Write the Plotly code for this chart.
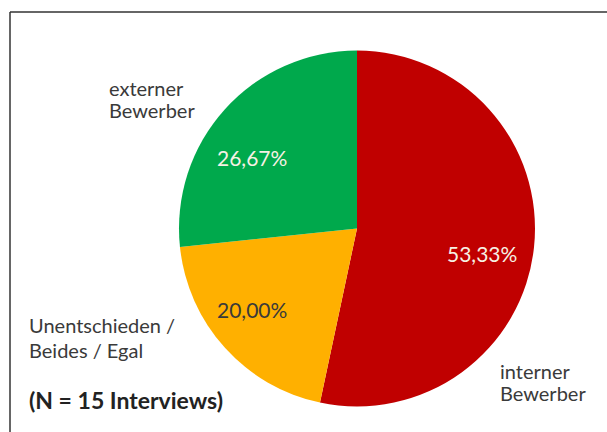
import plotly.graph_objects as go

# Interview answers: which applicant is preferred (N = 15)
categories = ["interner Bewerber", "Unentschieden / Beides / Egal", "externer Bewerber"]
counts = [8, 3, 4]
colors = ["#C00000", "#FFB000", "#00A94C"]

total = sum(counts)
pct_text = [f"{c / total * 100:.2f}".replace(".", ",") + "%" for c in counts]

W, H = 607, 432
cx, cy, r = 357, 228.5, 178  # pie centre and radius in pixels (y from top)

fig = go.Figure(go.Pie(
    labels=categories,
    values=counts,
    sort=False,
    direction="clockwise",
    rotation=0,
    marker=dict(colors=colors, line=dict(width=0)),
    textinfo="none",
    hoverinfo="label+percent",
    showlegend=False,
    domain=dict(x=[(cx - r) / W, (cx + r) / W],
                y=[(H - cy - r) / H, (H - cy + r) / H]),
))

FONT = "Lato"
TXT = "#3a3a3a"


def px(x, y):
    return x / W, 1 - y / H


def label(x, y, text, size, color, anchor="left"):
    ax, ay = px(x, y)
    return dict(x=ax, y=ay, xref="paper", yref="paper", text=text,
                showarrow=False, xanchor=anchor, yanchor="middle",
                font=dict(family=FONT, size=size, color=color))


annotations = []
# percentage labels inside the slices
pct_pos = [(482, 254, "#F6F1E4"), (252, 309, "#3a3a3a"), (252, 157, "#F6F1E4")]
for (x, y, col), t in zip(pct_pos, pct_text):
    annotations.append(label(x, y, t, 21, col, anchor="center"))

# category labels outside the pie, one line each
cat_lines = [
    [(498, 371, "interner"), (498, 393, "Bewerber")],
    [(27, 325, "Unentschieden /"), (27, 350, "Beides / Egal")],
    [(107, 88, "externer"), (107, 110, "Bewerber")],
]
for lines in cat_lines:
    for x, y, t in lines:
        annotations.append(label(x, y, t, 20, TXT))

annotations.append(label(27, 400, "<b>(N = 15 Interviews)</b>", 23, "#222222"))

# frame lines along the top and left edge
shapes = [
    dict(type="line", xref="paper", yref="paper", x0=10 / W, x1=1.0,
         y0=1 - 12 / H, y1=1 - 12 / H, line=dict(color="#333333", width=1.5)),
    dict(type="line", xref="paper", yref="paper", x0=10 / W, x1=10 / W,
         y0=1 - 12 / H, y1=0, line=dict(color="#333333", width=1.5)),
]

fig.update_layout(
    width=W, height=H,
    margin=dict(l=0, r=0, t=0, b=0),
    paper_bgcolor="white",
    plot_bgcolor="white",
    annotations=annotations,
    shapes=shapes,
)

fig.write_html("out.html")
